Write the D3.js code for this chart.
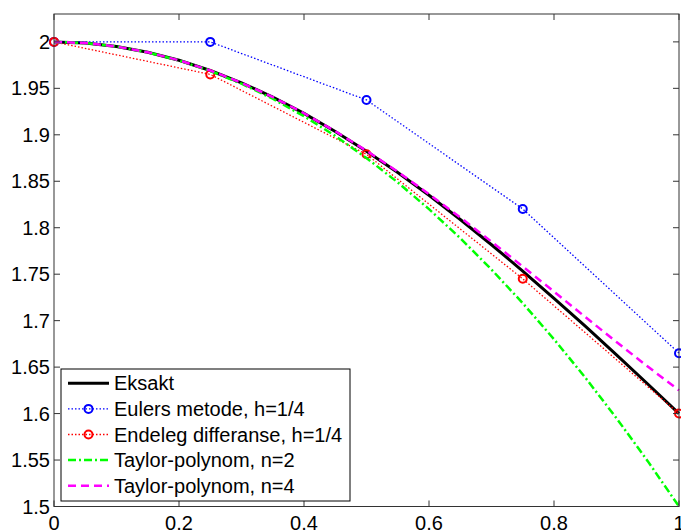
<!DOCTYPE html>
<html><head><meta charset="utf-8">
<script src="https://cdn.jsdelivr.net/npm/d3@7"></script>
<style>body{margin:0;background:#fff}svg{display:block}text{font-family:Arial,"Liberation Sans",Helvetica,sans-serif}</style>
</head><body>
<svg id="c" width="681" height="532"></svg>
<script>
// data
const xFine = [0,0.05,0.1,0.15,0.2,0.25,0.3,0.35,0.4,0.45,0.5,0.55,0.6,0.65,0.7,0.75,0.8,0.85,0.9,0.95,1];
const exact   = [2,1.9988,1.9950,1.9888,1.9802,1.9692,1.9560,1.9406,1.9231,1.9036,1.8824,1.8594,1.8349,1.8089,1.7817,1.7534,1.7241,1.6940,1.6632,1.6318,1.6];
const taylor2 = [2,1.9988,1.995,1.9888,1.98,1.9688,1.955,1.9388,1.92,1.8988,1.875,1.8488,1.82,1.7888,1.755,1.7188,1.68,1.6388,1.595,1.5488,1.5];
const taylor4 = [2,1.9988,1.9950,1.9888,1.9802,1.9692,1.9560,1.9406,1.9232,1.9039,1.8828,1.8602,1.8362,1.8111,1.7850,1.7583,1.7312,1.7040,1.6770,1.6506,1.625];
const xCoarse = [0,0.25,0.5,0.75,1];
const euler   = [2,2,1.9375,1.8202,1.6650];
const endeleg = [2,1.965,1.879,1.745,1.600];
const xTicks = [0,0.2,0.4,0.6,0.8,1];
const xTickLabels = ["0","0.2","0.4","0.6","0.8","1"];
const yTicks = [1.5,1.55,1.6,1.65,1.7,1.75,1.8,1.85,1.9,1.95,2];
const yTickLabels = ["1.5","1.55","1.6","1.65","1.7","1.75","1.8","1.85","1.9","1.95","2"];
const legendLabels = ["Eksakt","Eulers metode, h=1/4","Endeleg differanse, h=1/4","Taylor-polynom, n=2","Taylor-polynom, n=4"];

const L=54,R=679,T=14,B=506.5;
const svg=d3.select("#c");
const x=d3.scaleLinear().domain([0,1]).range([L,R]);
const y=d3.scaleLinear().domain([1.5,2.03]).range([B,T]);

const series=[
 {xs:xFine,ys:exact,color:"#000",w:3,dash:null,marker:false},
 {xs:xCoarse,ys:euler,color:"#0000ff",w:1.3,dash:"1.5,2",marker:true},
 {xs:xCoarse,ys:endeleg,color:"#ff0000",w:1.3,dash:"1.5,2",marker:true},
 {xs:xFine,ys:taylor2,color:"#00ff00",w:2.5,dash:"8,3,2,3",marker:false},
 {xs:xFine,ys:taylor4,color:"#ff00ff",w:2.5,dash:"8,5",marker:false}
];
const line=d3.line();
series.forEach(s=>{
  const pts=s.xs.map((v,i)=>[x(v),y(s.ys[i])]);
  svg.append("path").attr("d",line(pts)).attr("fill","none").attr("stroke",s.color)
    .attr("stroke-width",s.w).attr("stroke-dasharray",s.dash);
  if(s.marker){
    svg.selectAll(null).data(pts).enter().append("circle").attr("cx",d=>d[0]).attr("cy",d=>d[1])
      .attr("r",4).attr("fill","none").attr("stroke",s.color).attr("stroke-width",2);
  }
});

// axes frame
const ac="#333";
svg.append("rect").attr("x",L).attr("y",T).attr("width",R-L).attr("height",B-T)
  .attr("fill","none").attr("stroke",ac).attr("stroke-width",1);
const tl=6;
xTicks.forEach((t,i)=>{
  svg.append("line").attr("x1",x(t)).attr("x2",x(t)).attr("y1",B).attr("y2",B-tl).attr("stroke",ac);
  svg.append("line").attr("x1",x(t)).attr("x2",x(t)).attr("y1",T).attr("y2",T+tl).attr("stroke",ac);
  svg.append("text").attr("x",x(t)).attr("y",530).attr("text-anchor","middle").attr("font-size",20).text(xTickLabels[i]);
});
yTicks.forEach((t,i)=>{
  svg.append("line").attr("x1",L).attr("x2",L+tl).attr("y1",y(t)).attr("y2",y(t)).attr("stroke",ac);
  svg.append("line").attr("x1",R).attr("x2",R-tl).attr("y1",y(t)).attr("y2",y(t)).attr("stroke",ac);
  svg.append("text").attr("x",50).attr("y",y(t)+7).attr("text-anchor","end").attr("font-size",20).text(yTickLabels[i]);
});

// legend
const lg=svg.append("g");
lg.append("rect").attr("x",61).attr("y",369).attr("width",289).attr("height",132)
  .attr("fill","#fff").attr("stroke","#000").attr("stroke-width",1);
series.forEach((s,i)=>{
  const cy=383.3+i*25.6;
  lg.append("line").attr("x1",68).attr("x2",109).attr("y1",cy).attr("y2",cy)
    .attr("stroke",s.color).attr("stroke-width",s.w).attr("stroke-dasharray",s.dash);
  if(s.marker) lg.append("circle").attr("cx",88.5).attr("cy",cy).attr("r",4).attr("fill","none")
    .attr("stroke",s.color).attr("stroke-width",2);
  lg.append("text").attr("x",114).attr("y",cy+7).attr("font-size",20).text(legendLabels[i]);
});
</script>
</body></html>
